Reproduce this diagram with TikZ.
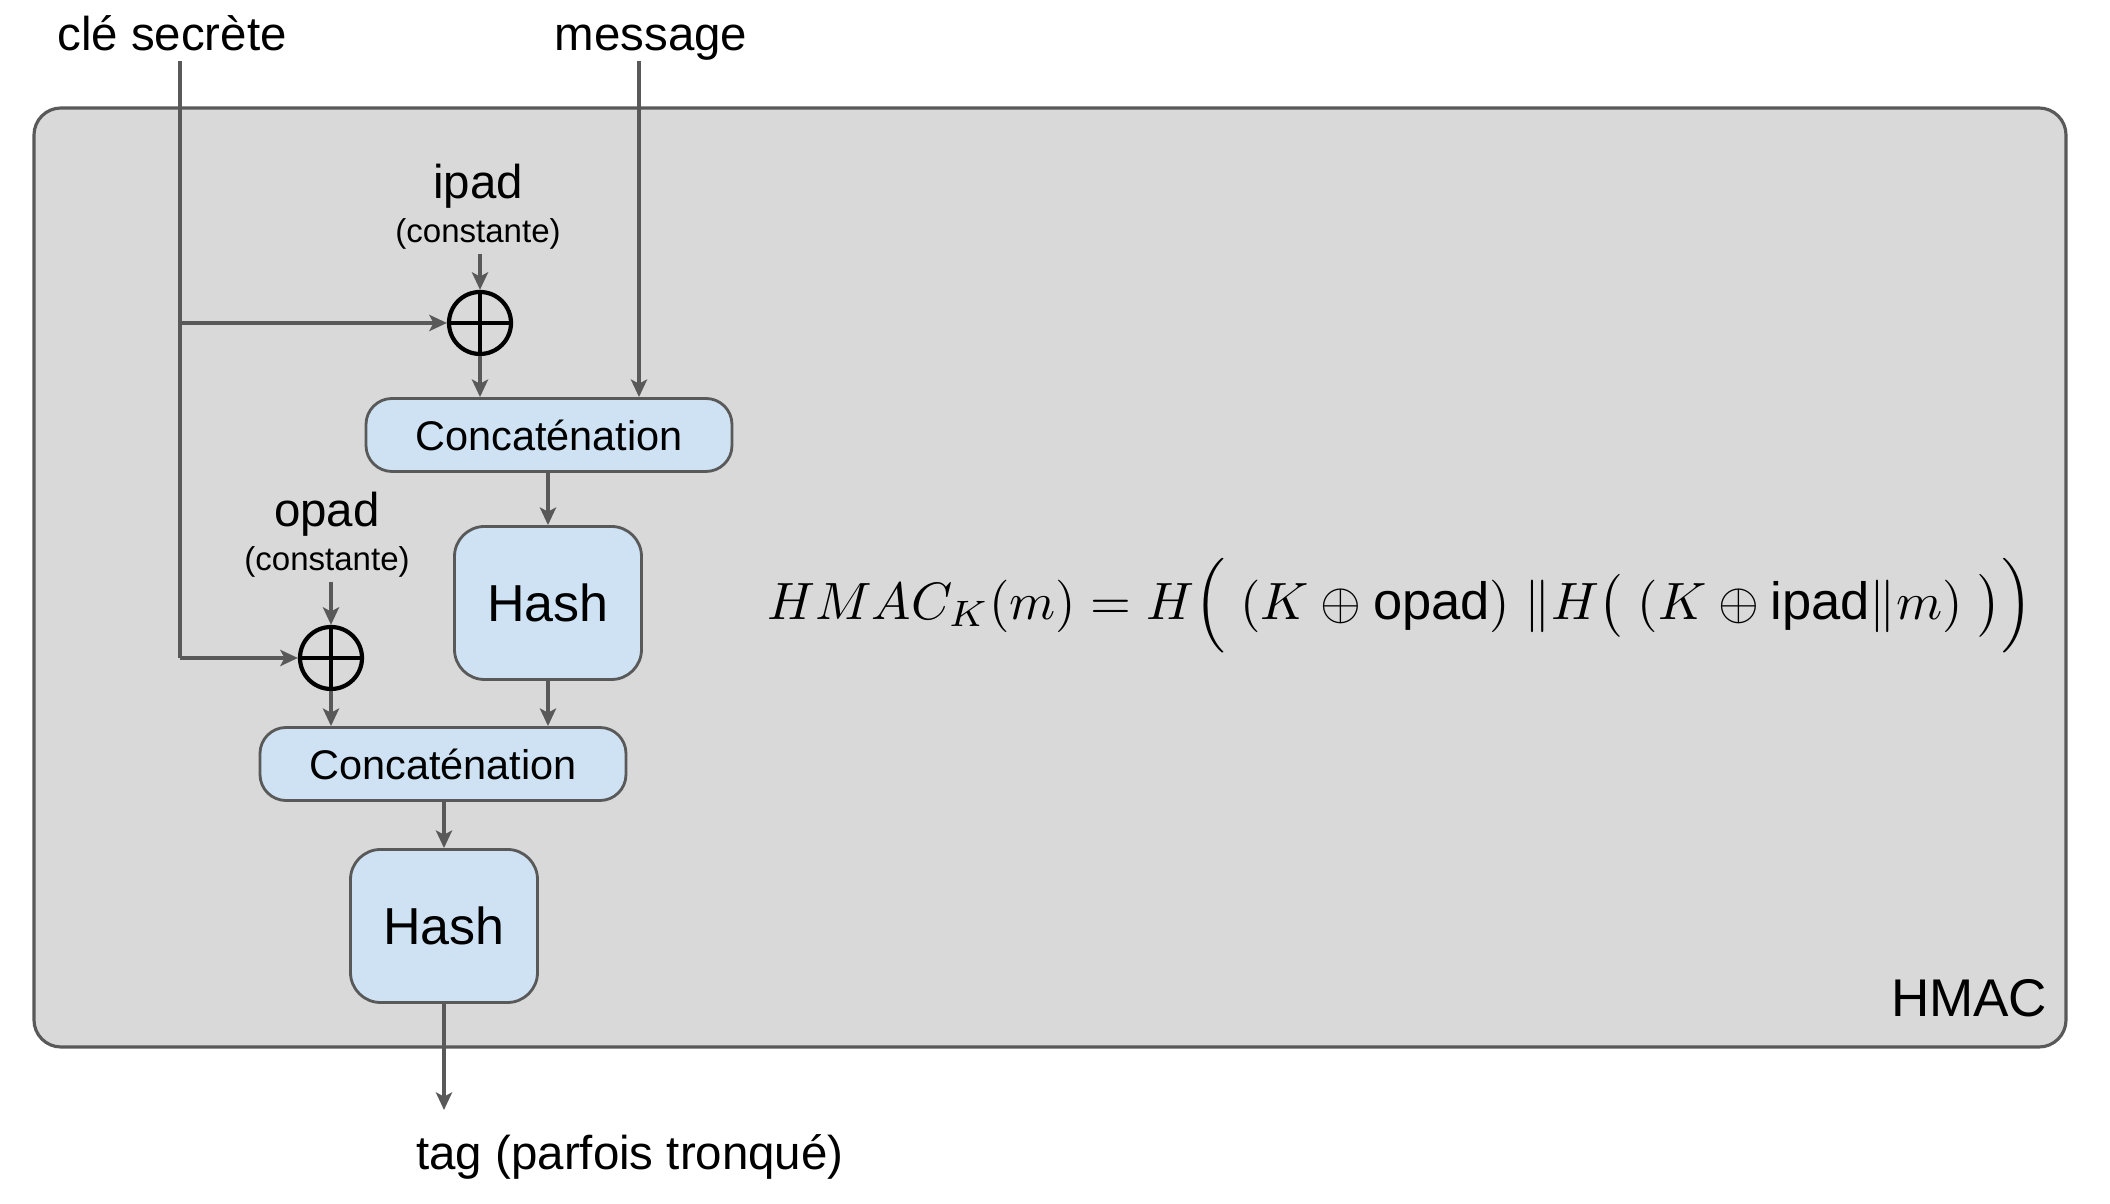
\documentclass[tikz,border=0pt]{standalone}
\usepackage{amsmath}
\usepackage{amssymb}
\usepackage{graphicx}
\usepackage{fontspec}
\setmainfont{Liberation Sans}
\usepackage{tikz}
\usetikzlibrary{calc,positioning,arrows.meta,shapes}
\definecolor{fondgris}{HTML}{D9D9D9}
\definecolor{traitgris}{HTML}{595959}
\definecolor{bleuclair}{HTML}{CFE2F3}

\begin{document}
\begin{tikzpicture}[
  fleche/.style={draw=traitgris, line width=1.4pt, -{Stealth[length=5pt,width=4.6pt,inset=1.2pt]}},
  ligne/.style={draw=traitgris, line width=1.4pt},
  bloc/.style={draw=traitgris, line width=0.8pt, fill=bleuclair, inner sep=0pt},
  concat/.style={bloc, rounded corners=0.26cm, minimum width=3.66cm, minimum height=0.73cm, font=\fontsize{11.8}{14}\selectfont},
  hashbox/.style={bloc, rounded corners=0.3cm, minimum width=1.87cm, minimum height=1.53cm, font=\fontsize{14.8}{17}\selectfont},
  xorop/.style={circle, draw=black, line width=1.2pt, minimum size=0.62cm, inner sep=0pt,
    path picture={\draw[black, line width=1.2pt] (path picture bounding box.north) -- (path picture bounding box.south)
      (path picture bounding box.west) -- (path picture bounding box.east);}},
  etiq/.style={inner sep=1pt, font=\fontsize{13.5}{16}\selectfont},
  petit/.style={inner sep=1pt, font=\fontsize{9.4}{11}\selectfont}]
\useasboundingbox (0,0) rectangle (21.10,12.04);
\draw[draw=traitgris, line width=0.9pt, fill=fondgris, rounded corners=0.27cm] (0.34,1.57) rectangle (20.66,10.96);

% entrees
\node[etiq, anchor=base] (cle) at (1.72,11.53) {clé secrète};
\node[etiq, anchor=base] (msg) at (6.51,11.53) {message};
\coordinate (k0) at (1.80,11.43);
\coordinate (m0) at (6.39,11.43);

% partie interne
\node[etiq] (ipad) at (4.78,10.18) {ipad};
\node[petit] (ipadc) at (4.78,9.70) {(constante)};
\node[xorop] (xori) at (4.80,8.81) {};
\node[concat] (concati) at (5.49,7.69) {Concaténation};
\node[hashbox] (hashi) at (5.48,6.01) {Hash};

% partie externe
\node[etiq] (opad) at (3.27,6.90) {opad};
\node[petit] (opadc) at (3.27,6.42) {(constante)};
\node[xorop] (xoro) at (3.31,5.46) {};
\node[concat] (concato) at (4.43,4.40) {Concaténation};
\node[hashbox] (hasho) at (4.44,2.78) {Hash};

\coordinate (sortie) at (4.44,0.94);
\node[etiq] (tag) at (6.30,0.47) {tag (parfois tronqué)};
\node[inner sep=0pt, anchor=east, font=\fontsize{15.1}{18}\selectfont] (hmaclbl) at (20.48,2.06) {HMAC};
\node (formule) at (14.00,5.98) {\resizebox{12.65cm}{!}{$HMAC_K(m) = H\Big(\;(K \oplus \text{opad})\;\|H\big(\;(K \oplus \text{ipad}\|m)\;\big)\Big)$}};

% fleches
\draw[ligne] (k0) -- (k0 |- xoro.west);
\draw[fleche] (k0 |- xori.west) -- (xori.west);
\draw[fleche] (k0 |- xoro.west) -- (xoro.west);
\draw[fleche] (m0) -- (m0 |- concati.north);
\draw[fleche] (ipadc.south -| xori.north) -- (xori.north);
\draw[fleche] (xori.south) -- (xori.south |- concati.north);
\draw[fleche] (hashi.north |- concati.south) -- (hashi.north);
\draw[fleche] (opadc.south -| xoro.north) -- (xoro.north);
\draw[fleche] (xoro.south) -- (xoro.south |- concato.north);
\draw[fleche] (hashi.south) -- (hashi.south |- concato.north);
\draw[fleche] (hasho.north |- concato.south) -- (hasho.north);
\draw[fleche] (hasho.south) -- (sortie);
\end{tikzpicture}
\end{document}
